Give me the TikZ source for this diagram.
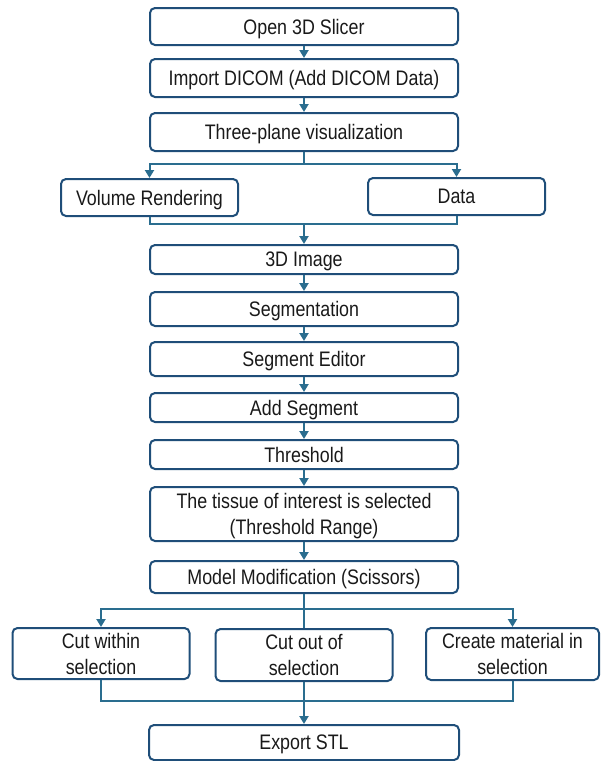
\documentclass[tikz,border=0pt]{standalone}
\usepackage{fontspec}
\setmainfont{Liberation Sans}[FakeStretch=0.85]
\usetikzlibrary{arrows.meta}
\definecolor{boxblue}{HTML}{1F4E79}
\definecolor{linkblue}{HTML}{2A6D8F}
\tikzset{x=1pt, y=-1pt}
\tikzset{
    procbox/.style={draw=boxblue, line width=2pt, rounded corners=5pt,
    	inner sep=0pt, align=center, text=black!90, text depth=0pt,
    	font=\fontsize{21}{26}\selectfont},
    wide/.style={procbox, minimum width=308pt},
    narrow/.style={procbox, minimum width=177pt},
    link/.style={draw=linkblue, line width=2pt},
    flow/.style={link, -{Triangle[width=9pt,length=8pt]}}
}

\begin{document}
\begin{tikzpicture}
  \useasboundingbox (0,0) rectangle (602,761);
  \node (open) [wide, minimum height=37pt] at (304, 26.5) {Open 3D Slicer};
  \node (import) [wide, minimum height=38pt] at (304, 78) {Import DICOM (Add DICOM Data)};
  \node (three) [wide, minimum height=38pt] at (304, 132) {Three-plane visualization};
  \node (vr) [narrow, minimum height=37pt] at (149.5, 197.5) {Volume Rendering};
  \node (data) [narrow, minimum height=37pt] at (456.5, 196.5) {Data};
  \node (img) [wide, minimum height=29pt] at (304, 259.5) {3D Image};
  \node (seg) [wide, minimum height=34pt] at (304, 309) {Segmentation};
  \node (editor) [wide, minimum height=34pt] at (304, 359) {Segment Editor};
  \node (add) [wide, minimum height=29pt] at (304, 407.5) {Add Segment};
  \node (thr) [wide, minimum height=29pt] at (304, 454.5) {Threshold};
  \node (tissue) [wide, minimum height=54pt] at (304, 514) {The tissue of interest is selected\\(Threshold Range)};
  \node (model) [wide, minimum height=32pt] at (304, 577) {Model Modification (Scissors)};
  \node (within) [narrow, minimum height=51pt] at (101, 653.5) {Cut within\\selection};
  \node (out) [narrow, minimum height=52pt] at (304, 655) {Cut out of\\selection};
  \node (create) [narrow, minimum width=173pt, minimum height=52pt] at (512.5, 654) {Create material in\\selection};
  \node (export) [wide, minimum width=310pt, minimum height=35pt] at (304, 742.5) {Export STL};
  \coordinate (split1) at (304, 164);
  \coordinate (join1) at (304, 224);
  \coordinate (split2) at (304, 609);
  \coordinate (join2) at (304, 701);

  \draw [flow] (open) -- (import);
  \draw [flow] (import) -- (three);
  \draw [link] (three) -- (split1);
  \draw [flow] (split1) -| (vr.north);
  \draw [flow] (split1) -| (data.north);
  \draw [link] (vr.south) |- (join1) -| (data.south);
  \draw [flow] (join1) -- (img);
  \draw [flow] (img) -- (seg);
  \draw [flow] (seg) -- (editor);
  \draw [flow] (editor) -- (add);
  \draw [flow] (add) -- (thr);
  \draw [flow] (thr) -- (tissue);
  \draw [flow] (tissue) -- (model);
  \draw [link] (model) -- (split2) -- (out);
  \draw [flow] (split2) -| (within.north);
  \draw [flow] (split2) -| (create.north);
  \draw [link] (within.south) |- (join2) -| (create.south);
  \draw [link] (out) -- (join2);
  \draw [flow] (join2) -- (export);
\end{tikzpicture}
\end{document}
